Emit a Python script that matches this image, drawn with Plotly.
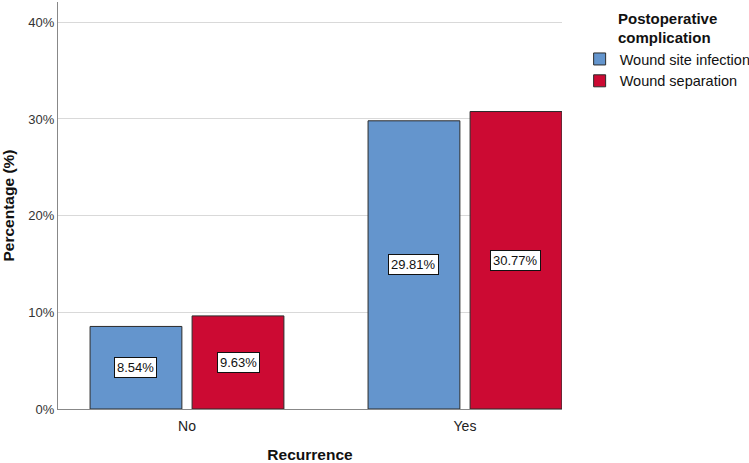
import plotly.graph_objects as go

categories = ["No", "Yes"]
series_names = ["Wound site infection", "Wound separation"]
wound_site_infection = [8.54, 29.81]
wound_separation = [9.63, 30.77]
y_ticks = [0, 10, 20, 30, 40]
y_tick_labels = ["0%", "10%", "20%", "30%", "40%"]

colors = ["#6495cd", "#cc0a33"]
xpos = list(range(len(categories)))

bargap = 0.266
bargroupgap = 0.1

fig = go.Figure()
for name, vals, col in zip(series_names, [wound_site_infection, wound_separation], colors):
    fig.add_trace(go.Bar(
        x=xpos, y=vals, name=name,
        marker=dict(color=col, line=dict(color="#2b2b2b", width=1)),
    ))

slot = (1 - bargap) / 2
offsets = [-slot / 2, slot / 2]
for vals, off in zip([wound_site_infection, wound_separation], offsets):
    for xi, v in zip(xpos, vals):
        fig.add_annotation(
            x=xi + off, y=v / 2, text=f"{v:.2f}%", showarrow=False,
            font=dict(family="Liberation Sans, Arial", size=13, color="#111"),
            bgcolor="white", bordercolor="#111", borderwidth=1, borderpad=2,
        )

fig.update_layout(
    width=749, height=463,
    margin=dict(l=58, r=187, t=2, b=54, autoexpand=False),
    paper_bgcolor="white", plot_bgcolor="white",
    barmode="group", bargap=bargap, bargroupgap=bargroupgap,
    font=dict(family="Liberation Sans, Arial", size=13, color="#222"),
    showlegend=True,
    legend=dict(
        title=dict(text="<b>Postoperative<br>complication</b>", side="top center",
                   font=dict(size=15, color="#111")),
        x=1.035, xanchor="left", y=0.995, yanchor="top",
        font=dict(size=14.5, color="#111"),
        bgcolor="rgba(0,0,0,0)", tracegroupgap=0, itemwidth=30,
    ),
    xaxis=dict(
        tickmode="array", tickvals=xpos, ticktext=categories,
        range=[-0.464, 1.349], automargin=False,
        showline=True, linecolor="#888", linewidth=1,
        showgrid=False, ticks="", zeroline=False, ticklabelstandoff=4,
        tickfont=dict(size=14, color="#222"),
        title=dict(text="<b>Recurrence</b>", font=dict(size=15.5, color="#111"), standoff=19),
    ),
    yaxis=dict(
        tickmode="array", tickvals=y_ticks, ticktext=y_tick_labels,
        range=[0, 42.1], automargin=False,
        showline=True, linecolor="#888", linewidth=1,
        showgrid=True, gridcolor="#d9d9d9", gridwidth=1,
        zeroline=False, ticks="",
        tickfont=dict(size=13, color="#333"),
        title=dict(text="<b>Percentage (%)</b>", font=dict(size=15.5, color="#111"), standoff=10),
    ),
)

fig.write_html("out.html", config={"displayModeBar": False},
               post_script="document.body.style.margin='0';document.body.style.overflow='hidden';")
